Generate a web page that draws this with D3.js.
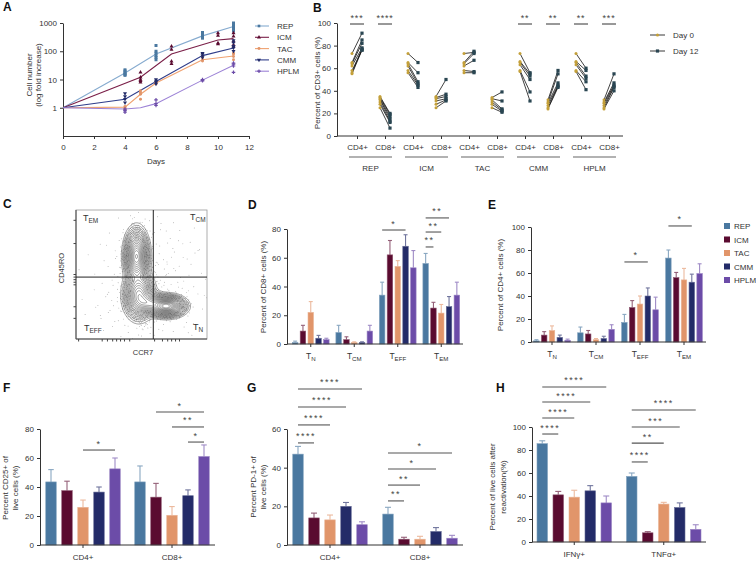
<!DOCTYPE html>
<html><head><meta charset="utf-8">
<script src="https://cdn.jsdelivr.net/npm/d3@7"></script>
<style>
body{margin:0;background:#fff}
text{font-family:"Liberation Sans",Arial,Helvetica,sans-serif}
</style>
</head><body>
<svg id="c" width="756" height="561" xmlns="http://www.w3.org/2000/svg"></svg>
<script>
// ================= DATA =================
const strains = ["REP","ICM","TAC","CMM","HPLM"];
const strainColors = ["#4a78a0","#5a0b30","#e1956a","#232b68","#6c4ca8"];
const growthLineColors = ["#86abcf","#7a1f48","#f0a270","#2f3d8a","#9c82d6"];

// Panel A: mean fold increase
const growthDaysREP = [0,4,6,9,11],      growthREP  = [1,17,80,350,750];
const growthDaysICM = [0,5,7,10,11],     growthICM  = [1,12,80,250,280];
const growthDaysTAC = [0,4,5,6,9,11],    growthTAC  = [1,1.05,3,7.5,50,68];
const growthDaysCMM = [0,4,6,9,11],      growthCMM  = [1,2,8.5,70,130];
const growthDaysHPLM = [0,4,5,6,9,11],   growthHPLM = [1,0.9,1,1.4,9.5,32];
// Panel A: replicates [day, value]
const repsREP = [[4,14],[4,15],[4,16],[4,18],[4,20],[4,22],[6,50],[6,60],[6,70],[6,85],[6,100],[6,160],[9,290],[9,330],[9,370],[9,420],[9,460],[11,520],[11,600],[11,700],[11,800],[11,900],[11,1000]];
const repsICM = [[5,8],[5,9],[5,10],[5,12],[5,18],[7,36],[7,44],[7,114],[7,150],[10,180],[10,195],[10,360],[10,440],[11,150],[11,170],[11,225],[11,340],[11,440]];
const repsTAC = [[4,0.9],[4,1],[4,1.1],[5,2],[5,3],[5,3.5],[5,4],[6,7],[6,7.5],[6,8],[9,45],[9,50],[9,60],[9,65],[11,50],[11,65],[11,80],[11,85]];
const repsCMM = [[4,1.5],[4,2],[4,2.5],[4,3.2],[6,7],[6,8],[6,9],[6,10],[9,60],[9,70],[9,80],[9,85],[11,100],[11,130],[11,150],[11,200],[11,240]];
const repsHPLM = [[4,0.7],[4,0.8],[4,0.9],[6,1.2],[6,1.4],[6,1.9],[9,9],[9,9.5],[9,10],[11,18],[11,30],[11,35],[11,38]];
const growthTicksX = [0,2,4,6,8,10,12];
const growthTicksY = [1,10,100,1000];

// Panel B: percent of CD3+ cells, day 0 vs day 12 (paired)
const bMedia = ["REP","ICM","TAC","CMM","HPLM"];
const bSubsets = ["CD4+","CD8+"];
const day0Values = [
  [73,65,64,62,58,56,55],[35,34,33,32,30,28,25],
  [73,65,64,62,58,56],[35,34,33,31,28,25],
  [73,65,64,62,58,56],[34,33,32,30,28,25],
  [73,66,65,63,58,57],[32,30,29,27,25,24],
  [73,66,65,63,58,57],[32,30,29,27,25,24]];
const day12Values = [
  [91,85,82,78,76,77,76],[20,19,17,15,13,12,7],
  [65,56,48,46,45,43],[50,37,35,33,32,31],
  [74,75,73,67,57,56],[39,31,24,23,22,21],
  [56,55,53,50,39,31],[58,55,47,45,44,43],
  [60,58,53,51,48,41],[55,47,45,44,43,40]];
const bSig = ["***","****","","","","","**","**","**","***"];
const bTicksY = [0,20,40,60,80,100];

// Panel C: flow cytometry contour (cluster centres / spreads in box fractions)
const flowClusters = [[0.462,0.36,0.04,0.09,1.0],[0.69,0.745,0.062,0.036,1.25],[0.48,0.66,0.05,0.08,0.75],[0.56,0.72,0.05,0.04,0.5]];
const flowBackground = [0.56,0.6,0.22,0.28];
const flowTicksY = [0.08,0.26,0.5,0.52,0.54,0.56,0.58,0.75,0.84];
const flowTicksX = [0.02,0.2,0.24,0.28,0.31,0.34,0.37,0.41,0.6,0.66,0.7,0.73,0.76,0.79];

// Panel D: % of CD8+ cells (groups x strains)
const subsetGroups = ["N","CM","EFF","EM"];
const cd8Means = [[1,9,22,4,3],[8,3,1,1,9],[34,62,54,68,53],[56,25,21.5,26,34]];
const cd8Errs  = [[2,13,29.5,6,4],[13,5,1.5,1.5,13],[43,72,58,76,65],[63,29,27.5,33,43]];
const cd8Sig = [[2,0,3,79.3,"*"],[3,0,1,67.5,"**"],[3,0,2,77.9,"**"],[3,0,3,87.7,"**"]];

// Panel E: % of CD4+ cells
const cd4Means = [[1,6,10,4,1.5],[8,7,2,3,11],[17,30,33,40,28],[73,56,54,52,59.5]];
const cd4Errs  = [[2,9,14,6,2.5],[13,10,3,5,15],[24,36,40,47,39],[80,60.5,64,59,68]];
const cd4Sig = [[2,0,3,69.6,"*"],[3,0,3,100.9,"*"]];

// Panel F: % CD25+ of live cells
const cellGroups = ["CD4+","CD8+"];
const cd25Means = [[43.5,37.5,26,36.5,52.5],[43.5,33,20.5,34,61]];
const cd25Errs  = [[52,44,31,40,60],[54.5,42.5,26.5,38,69]];
const cd25Sig = [[0,2,4,65.5,"*"],[1,1,4,91.7,"*"],[1,2,4,81.4,"**"],[1,3,4,71,"*"]];

// Panel G: % PD-1+ of live cells
const pd1Means = [[47,14,13,20,10.5],[16,3,3,7,3.5]];
const pd1Errs  = [[51,16.5,15.5,22,12],[19.5,4,4.5,9,5]];
const pd1Sig = [[0,0,1,52.8,"****"],[0,0,2,62.1,"****"],[0,0,3,71.4,"****"],[0,0,4,80.7,"****"],
                [1,0,1,22.8,"**"],[1,0,2,31,"**"],[1,0,3,39.3,"*"],[1,0,4,47.6,"*"]];

// Panel H: % of live cells after reactivation
const cytoGroups = ["IFNγ+","TNFα+"];
const cytoMeans = [[85.5,41,39,44.5,34],[57,8,33,30,11]];
const cytoErrs  = [[88,44,45,49,40],[60,9,34.5,34,15]];
const cytoSig = [[0,0,1,93.9,"****"],[0,0,2,107.8,"****"],[0,0,3,121.7,"****"],[0,0,4,134.8,"****"],
                 [1,0,1,69.6,"****"],[1,0,2,86,"**"],[1,0,3,100,"***"],[1,0,4,114.8,"****"]];

// ================= DRAWING =================
const svg = d3.select("#c");
const AX = "#333";
function tint(c,k){ return d3.interpolateRgb(c,"#ffffff")(k); }
function styleAxis(g, fs){
  g.selectAll("path,line").attr("stroke",AX).attr("stroke-width",1);
  g.selectAll("text").attr("font-size",fs||8).attr("fill","#333");
  return g;
}
function letter(t,x,y){ svg.append("text").attr("x",x).attr("y",y).attr("font-size",12).attr("font-weight","bold").attr("fill","#111").text(t); }
function vlabel(lines,xs,cy,fs){
  lines.forEach((t,i)=>svg.append("text").attr("transform",`translate(${xs[i]},${cy}) rotate(-90)`)
    .attr("text-anchor","middle").attr("font-size",fs||8).attr("fill","#333").text(t));
}
function stars(x,y,t,ls){
  svg.append("text").attr("x",x).attr("y",y).attr("text-anchor","middle").attr("font-size",9)
    .attr("letter-spacing",ls==null?1.5:ls).attr("fill","#444").text(t);
}

// ---------- Panel A ----------
letter("A",3,11);
const ax = d3.scaleLinear().domain([0,12]).range([63,249]);
const ay = d3.scaleLog().domain([0.1,1000]).range([136,23]);
styleAxis(svg.append("g").attr("transform","translate(0,136)")
  .call(d3.axisBottom(ax).tickValues(growthTicksX).tickSize(3).tickPadding(5).tickSizeOuter(0)));
styleAxis(svg.append("g").attr("transform","translate(63,0)")
  .call(d3.axisLeft(ay).tickValues(growthTicksY).tickFormat(d3.format("d")).tickSize(3).tickSizeOuter(0)));
svg.append("text").attr("x",156).attr("y",164).attr("text-anchor","middle").attr("font-size",8).attr("fill","#333").text("Days");
vlabel(["Cell number","(log fold increase)"],[32,41],75,8);

const growthSeries = [
  {days:growthDaysREP, vals:growthREP, reps:repsREP, sym:d3.symbolSquare, rot:0},
  {days:growthDaysICM, vals:growthICM, reps:repsICM, sym:d3.symbolTriangle, rot:0},
  {days:growthDaysTAC, vals:growthTAC, reps:repsTAC, sym:d3.symbolCircle, rot:0},
  {days:growthDaysCMM, vals:growthCMM, reps:repsCMM, sym:d3.symbolTriangle, rot:180},
  {days:growthDaysHPLM, vals:growthHPLM, reps:repsHPLM, sym:d3.symbolCross, rot:0}];
const gLine = d3.line().x(d=>ax(d[0])).y(d=>ay(d[1]));
growthSeries.forEach((s,i)=>{
  const pts = s.days.map((d,k)=>[d,s.vals[k]]);
  svg.append("path").attr("d",gLine(pts)).attr("fill","none").attr("stroke",growthLineColors[i]).attr("stroke-width",1.1);
});
growthSeries.forEach((s,i)=>{
  svg.append("g").selectAll("path").data(s.reps).join("path")
    .attr("d",d3.symbol(s.sym, i===0?9:7))
    .attr("transform",d=>`translate(${ax(d[0])},${ay(d[1])}) rotate(${s.rot})`)
    .attr("fill",strainColors[i]);
});
// legend A
strains.forEach((s,i)=>{
  const y = 26 + i*11.3;
  svg.append("line").attr("x1",255).attr("x2",269).attr("y1",y).attr("y2",y).attr("stroke",growthLineColors[i]).attr("stroke-width",1.1);
  svg.append("path").attr("d",d3.symbol(growthSeries[i].sym,7)).attr("transform",`translate(259,${y}) rotate(${growthSeries[i].rot})`).attr("fill",strainColors[i]);
  svg.append("text").attr("x",277).attr("y",y+3).attr("font-size",8).attr("fill","#333").text(s);
});

// ---------- Panel B ----------
letter("B",313,12);
const bKeys = [];
bMedia.forEach(m=>bSubsets.forEach(s=>bKeys.push(m+"|"+s)));
const bx = d3.scalePoint().domain(bKeys).range([357,609]);
const by = d3.scaleLinear().domain([0,100]).range([136,23]);
styleAxis(svg.append("g").attr("transform","translate(337,0)")
  .call(d3.axisLeft(by).tickValues(bTicksY).tickSize(3).tickSizeOuter(0)));
svg.append("line").attr("x1",337).attr("x2",623).attr("y1",136).attr("y2",136).attr("stroke",AX);
const bxa = svg.append("g").attr("transform","translate(0,136)")
  .call(d3.axisBottom(bx).tickSize(3).tickPadding(5).tickFormat(k=>k.split("|")[1]));
bxa.select(".domain").remove();
styleAxis(bxa);
bMedia.forEach(m=>{
  const x1 = bx(m+"|CD4+")-8, x2 = bx(m+"|CD8+")+7;
  svg.append("line").attr("x1",x1).attr("x2",x2).attr("y1",157).attr("y2",157).attr("stroke","#999").attr("stroke-width",1.3);
  svg.append("text").attr("x",(x1+x2)/2).attr("y",171).attr("text-anchor","middle").attr("font-size",8).attr("fill","#333").text(m);
});
vlabel(["Percent of CD3+ cells (%)"],[320],83,8);
bKeys.forEach((k,ci)=>{
  const cx = bx(k);
  const d0 = day0Values[ci], d12 = day12Values[ci];
  const g = svg.append("g");
  g.selectAll("line").data(d0).join("line")
    .attr("x1",cx-5).attr("x2",cx+5).attr("y1",d=>by(d)).attr("y2",(d,j)=>by(d12[j]))
    .attr("stroke","#111").attr("stroke-width",0.8);
  g.selectAll("circle").data(d0).join("circle").attr("cx",cx-5).attr("cy",d=>by(d)).attr("r",1.5).attr("fill","#c4a03a");
  g.selectAll("rect").data(d12).join("rect").attr("x",cx+5-1.6).attr("y",d=>by(d)-1.6).attr("width",3.2).attr("height",3.2).attr("fill","#2a4652");
  if(bSig[ci]){
    svg.append("line").attr("x1",cx-7).attr("x2",cx+7).attr("y1",24).attr("y2",24).attr("stroke","#333").attr("stroke-width",1);
    stars(cx,21,bSig[ci],0.8);
  }
});
// legend B
[["Day 0","#c4a03a","c"],["Day 12","#2a4652","s"]].forEach((d,i)=>{
  const y = 35 + i*16;
  svg.append("line").attr("x1",650).attr("x2",665).attr("y1",y).attr("y2",y).attr("stroke","#222").attr("stroke-width",0.9);
  if(d[2]==="c") svg.append("circle").attr("cx",657.5).attr("cy",y).attr("r",1.6).attr("fill",d[1]);
  else svg.append("rect").attr("x",655.9).attr("y",y-1.6).attr("width",3.2).attr("height",3.2).attr("fill",d[1]);
  svg.append("text").attr("x",673).attr("y",y+3).attr("font-size",8).attr("fill","#333").text(d[0]);
});

// ---------- Panel C ----------
letter("C",3,208);
const cbx = 76, cby = 210, cW = 131, cH = 129;
const fx = d3.scaleLinear().domain([0,1]).range([cbx, cbx+cW]);
const fy = d3.scaleLinear().domain([0,1]).range([cby, cby+cH]);
function clusterDens(u,v){
  let s=0; flowClusters.forEach(c=>{ s += c[4]*Math.exp(-((u-c[0])**2/(2*c[2]*c[2]) + (v-c[1])**2/(2*c[3]*c[3]))); }); return s;
}
function bgDens(u,v){ const b=flowBackground; return Math.exp(-((u-b[0])**2/(2*b[2]*b[2]) + (v-b[1])**2/(2*b[3]*b[3]))); }
const grid = new Array(cW*cH);
let gmax = 0;
for(let j=0;j<cH;j++) for(let i=0;i<cW;i++){ const v = clusterDens((i+0.5)/cW,(j+0.5)/cH); grid[i+j*cW]=v; if(v>gmax) gmax=v; }
const levels = [0.012,0.022,0.035,0.05,0.07,0.095,0.125,0.16,0.2,0.25,0.3,0.36,0.42,0.49,0.56,0.63,0.7,0.78,0.86,0.93].map(t=>t*gmax);
// dots (deterministic Halton sampling of the density)
function halton(i,b){ let f=1,r=0; while(i>0){ f/=b; r+=f*(i%b); i=Math.floor(i/b);} return r; }
const dots = [];
for(let i=1;i<7000;i++){
  const u=halton(i,2), v=halton(i,3), w=halton(i,5);
  const cd = clusterDens(u,v)/gmax;
  const p = 0.1*bgDens(u,v) + 0.7*Math.min(1, cd/0.03);
  if(w < p && cd < 0.25) dots.push([u,v]);
}
svg.append("g").selectAll("circle").data(dots).join("circle")
  .attr("cx",d=>fx(d[0])).attr("cy",d=>fy(d[1])).attr("r",0.45).attr("fill","#888");
const contours = d3.contours().size([cW,cH]).thresholds(levels)(grid);
const cpath = d3.geoPath(d3.geoIdentity().translate([cbx,cby]));
svg.append("g").selectAll("path").data(contours).join("path")
  .attr("d",cpath).attr("fill","none").attr("stroke","#3c3c3c").attr("stroke-width",0.5);
svg.append("rect").attr("x",cbx).attr("y",cby).attr("width",cW).attr("height",cH).attr("fill","none").attr("stroke","#999").attr("stroke-width",0.8);
svg.append("line").attr("x1",cbx).attr("x2",cbx).attr("y1",cby).attr("y2",cby+cH).attr("stroke","#444");
svg.append("line").attr("x1",cbx).attr("x2",cbx+cW).attr("y1",cby+cH).attr("y2",cby+cH).attr("stroke","#444");
svg.append("line").attr("x1",fx(0.59)).attr("x2",fx(0.59)).attr("y1",cby).attr("y2",cby+cH).attr("stroke","#222").attr("stroke-width",1);
svg.append("line").attr("x1",cbx).attr("x2",cbx+cW).attr("y1",fy(0.52)).attr("y2",fy(0.52)).attr("stroke","#222").attr("stroke-width",1);
svg.append("g").selectAll("line").data(flowTicksY).join("line")
  .attr("x1",cbx-2.5).attr("x2",cbx).attr("y1",d=>fy(d)).attr("y2",d=>fy(d)).attr("stroke","#444");
svg.append("g").selectAll("line").data(flowTicksX).join("line")
  .attr("y1",cby+cH).attr("y2",cby+cH+2.5).attr("x1",d=>fx(d)).attr("x2",d=>fx(d)).attr("stroke","#444");
function subText(x,y,main,sub,fs,anchor){
  const t = svg.append("text").attr("x",x).attr("y",y).attr("font-size",fs).attr("fill","#333").attr("text-anchor",anchor||"start");
  t.append("tspan").text(main);
  t.append("tspan").attr("font-size",fs*0.72).attr("dy",fs*0.25).text(sub);
  return t;
}
subText(83,221,"T","EM",9);
subText(190,220,"T","CM",9);
subText(84,331,"T","EFF",9);
subText(193,330,"T","N",9);
vlabel(["CD45RO"],[64],268,7.5);
svg.append("text").attr("x",143).attr("y",355).attr("text-anchor","middle").attr("font-size",7.5).attr("fill","#333").text("CCR7");

// ---------- Bar panels ----------
function barPanel(o){
  const y = d3.scaleLinear().domain([0,o.ymax]).range([o.y0,o.y1]);
  const x = d3.scaleBand().domain(d3.range(o.means.length)).range(o.xr);
  const xi = d3.scalePoint().domain(strains).range([-2*o.step,2*o.step]);
  const cxOf = (gi,si)=>x(gi)+x.bandwidth()/2+xi(strains[si]);
  styleAxis(svg.append("g").attr("transform",`translate(${o.ax0},0)`)
    .call(d3.axisLeft(y).tickValues(d3.range(0,o.ymax+0.1,o.tickStep)).tickSize(3).tickSizeOuter(0)));
  const g = svg.append("g");
  o.means.forEach((arr,gi)=>{
    arr.forEach((v,si)=>{
      const cx = cxOf(gi,si), col = strainColors[si], ec = tint(col,0.35);
      const e = o.errs[gi][si];
      g.append("line").attr("x1",cx).attr("x2",cx).attr("y1",y(v)).attr("y2",y(e)).attr("stroke",ec).attr("stroke-width",1.1);
      g.append("line").attr("x1",cx-o.cap/2).attr("x2",cx+o.cap/2).attr("y1",y(e)).attr("y2",y(e)).attr("stroke",ec).attr("stroke-width",1.1);
      g.append("rect").attr("x",cx-o.bw/2).attr("y",y(v)).attr("width",o.bw).attr("height",y(0)-y(v))
        .attr("fill",col).attr("stroke",tint(col,0.3)).attr("stroke-width",0.6);
    });
  });
  svg.append("line").attr("x1",o.ax0).attr("x2",o.ax1).attr("y1",y(0)).attr("y2",y(0)).attr("stroke",AX);
  const xa = svg.append("g").attr("transform",`translate(0,${y(0)})`)
    .call(d3.axisBottom(x).tickSize(3).tickPadding(6).tickFormat(o.sub? ()=>"" : i=>o.groups[i]));
  xa.select(".domain").remove();
  styleAxis(xa);
  if(o.sub){
    o.groups.forEach((gname,i)=>subText(x(i)+x.bandwidth()/2, y(0)+15, "T", gname, 8.5, "middle"));
  }
  o.sig.forEach(s=>{
    const x1 = cxOf(s[0],s[1]), x2 = cxOf(s[0],s[2]), yy = y(s[3]);
    svg.append("line").attr("x1",x1).attr("x2",x2).attr("y1",yy).attr("y2",yy).attr("stroke","#555").attr("stroke-width",1.1);
    stars((x1+x2)/2, yy-3.5, s[4]);
  });
}

// Panel D
letter("D",248,209);
barPanel({means:cd8Means, errs:cd8Errs, groups:subsetGroups, sub:true, ymax:80, tickStep:20,
  y0:344, y1:229, xr:[289,463], ax0:287, ax1:463, step:7.8, bw:5.5, cap:4, sig:cd8Sig});
vlabel(["Percent of CD8+ cells (%)"],[266],287,8);

// Panel E
letter("E",488,209);
barPanel({means:cd4Means, errs:cd4Errs, groups:subsetGroups, sub:true, ymax:100, tickStep:20,
  y0:342, y1:227, xr:[530,706], ax0:531, ax1:706, step:7.8, bw:5.5, cap:4, sig:cd4Sig});
vlabel(["Percent of CD4+ cells (%)"],[503],285,8);
strains.forEach((s,i)=>{
  const y = 226 + i*13.5;
  svg.append("rect").attr("x",724).attr("y",y-3).attr("width",6).attr("height",6).attr("fill",strainColors[i]);
  svg.append("text").attr("x",734).attr("y",y+3).attr("font-size",8).attr("fill","#333").text(s);
});

// Panel F
letter("F",3,392);
barPanel({means:cd25Means, errs:cd25Errs, groups:cellGroups, ymax:80, tickStep:20,
  y0:545, y1:429, xr:[38.5,216.5], ax0:40, ax1:215, step:16, bw:10.5, cap:5.5, sig:cd25Sig});
vlabel(["Percent CD25+ of","live cells (%)"],[8,17.5],488,8);

// Panel G
letter("G",247,392);
barPanel({means:pd1Means, errs:pd1Errs, groups:cellGroups, ymax:60, tickStep:20,
  y0:545, y1:429, xr:[285,465], ax0:287, ax1:463, step:16, bw:10.5, cap:6, sig:pd1Sig});
vlabel(["Percent PD-1+ of","live cells (%)"],[256,266],487,8);

// Panel H
letter("H",496,392);
barPanel({means:cytoMeans, errs:cytoErrs, groups:cytoGroups, ymax:100, tickStep:20,
  y0:542, y1:427, xr:[529.5,708.5], ax0:532, ax1:706, step:16, bw:10.5, cap:6, sig:cytoSig});
vlabel(["Percent of live cells after","reactivation(%)"],[495,506],487,8);
</script>
</body></html>
